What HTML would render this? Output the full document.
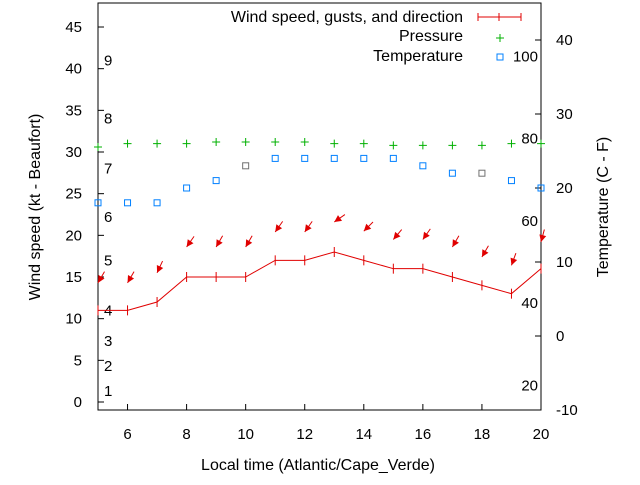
<!DOCTYPE html>
<html><head><meta charset="utf-8"><style>
body{margin:0;background:#fff;}
svg text{font-family:"Liberation Sans",sans-serif;font-size:15px;fill:#000;}
svg text.big{font-size:16px;}
</style></head><body>
<svg id="c" width="640" height="480"></svg>
<script>
const hours=[5,6,7,8,9,10,11,12,13,14,15,16,17,18,19,20];
const windSpeed=[11,11,12,15,15,15,17,17,18,17,16,16,15,14,13,16];
const gusts=[14.3,14.3,15.5,18.6,18.6,18.6,20.4,20.4,21.6,20.5,19.5,19.5,18.6,17.4,16.4,19.2];
const windDir=[30,30,25,35,30,30,35,35,55,45,40,35,30,30,20,15];
const pressure=[30.6,31,31,31,31.2,31.2,31.2,31.2,31,31,30.8,30.8,30.8,30.8,31,31];
const temperature=[18,18,18,20,21,23,24,24,24,24,24,23,22,22,21,20];
const tempGray=[0,0,0,0,0,1,0,0,0,0,0,0,0,1,0,0];
const leftTicks=[0,5,10,15,20,25,30,35,40,45];
const rightTicks=[-10,0,10,20,30,40];
const xTicks=[6,8,10,12,14,16,18,20];
const beaufort=[[1,1.3],[2,4.3],[3,7.3],[4,11],[5,17],[6,22.2],[7,28],[8,34],[9,41]];
const fahrenheit=[20,40,60,80,100];
const L=98,R=541,T=3,B=410;
const X=h=>L+(h-5)*(R-L)/15;
const Y=v=>402-v*8.333;
const YR=t=>336-t*7.4;
const s=document.getElementById('c');const NS='http://www.w3.org/2000/svg';
function el(t,a,txt){const e=document.createElementNS(NS,t);for(const k in a)e.setAttribute(k,a[k]);if(txt!==undefined)e.textContent=txt;s.appendChild(e);return e;}
let e;
e=el('rect',{x:L,y:T,width:R-L,height:B-T,fill:'none',stroke:'#000'});


leftTicks.forEach(v=>{e=el('line',{x1:L,x2:L+6,y1:Y(v),y2:Y(v),stroke:'#000'});


e=el('text',{x:82,y:Y(v)+5,'text-anchor':'end'},v);

});
rightTicks.forEach(v=>{e=el('line',{x1:R-6,x2:R,y1:YR(v),y2:YR(v),stroke:'#000'});


e=el('text',{x:556,y:YR(v)+5},v);

});
xTicks.forEach(v=>{e=el('line',{x1:X(v),x2:X(v),y1:B,y2:B-6,stroke:'#000'});


e=el('text',{x:X(v),y:439,'text-anchor':'middle'},v);

});
beaufort.forEach(b=>{e=el('text',{x:104,y:Y(b[1])+5},b[0]);

});
fahrenheit.forEach(f=>{e=el('text',{x:538,y:YR((f-32)*5/9)+5,'text-anchor':'end'},f);

});
e=el('text',{x:318,y:470,'text-anchor':'middle','class':'big'},'Local time (Atlantic/Cape_Verde)');


e=el('text',{x:0,y:0,'text-anchor':'middle','class':'big',transform:'translate(40,207) rotate(-90)'},'Wind speed (kt - Beaufort)');


e=el('text',{x:0,y:0,'text-anchor':'middle','class':'big',transform:'translate(608,207) rotate(-90)'},'Temperature (C - F)');


e=el('polyline',{points:hours.map((h,i)=>X(h)+','+Y(windSpeed[i])).join(' '),fill:'none',stroke:'#e00000'});


hours.forEach((h,i)=>{e=el('line',{x1:X(h),x2:X(h),y1:Y(windSpeed[i])-5,y2:Y(windSpeed[i])+5,stroke:'#e00000'});

});
hours.forEach((h,i)=>{const x=X(h),y=Y(gusts[i]);const a=windDir[i]*Math.PI/180;
const dx=Math.sin(a),dy=-Math.cos(a);
const g=document.createElementNS(NS,'g');s.appendChild(g);


const ln=document.createElementNS(NS,'line');ln.setAttribute('x1',x);ln.setAttribute('y1',y);ln.setAttribute('x2',x+dx*13);ln.setAttribute('y2',y+dy*13);ln.setAttribute('stroke','#e00000');g.appendChild(ln);
const px=-dy,py=dx;
const pg=document.createElementNS(NS,'polygon');
pg.setAttribute('points',`${x},${y} ${x+dx*7+px*3.5},${y+dy*7+py*3.5} ${x+dx*7-px*3.5},${y+dy*7-py*3.5}`);pg.setAttribute('fill','#e00000');g.appendChild(pg);});
hours.forEach((h,i)=>{const x=X(h),y=Y(pressure[i]);
e=el('path',{d:`M${x-4},${y}H${x+4}M${x},${y-4}V${y+4}`,stroke:'#00b000'});

});
hours.forEach((h,i)=>{const x=X(h),y=YR(temperature[i]);
e=el('rect',{x:x-3,y:y-3,width:6,height:6,fill:'none',stroke:tempGray[i]?'#707070':'#0080ff'});

});
e=el('text',{x:463,y:22,'text-anchor':'end','class':'big'},'Wind speed, gusts, and direction');


e=el('path',{d:'M478,17H521M478,13V21M499,13V21M521,13V21',stroke:'#e00000'});


e=el('text',{x:463,y:41,'text-anchor':'end','class':'big'},'Pressure');


e=el('path',{d:'M496,38H504M500,34V42',stroke:'#00b000'});


e=el('text',{x:463,y:61,'text-anchor':'end','class':'big'},'Temperature');


e=el('rect',{x:497,y:54,width:6,height:6,fill:'none',stroke:'#0080ff'});


</script>
</body></html>
